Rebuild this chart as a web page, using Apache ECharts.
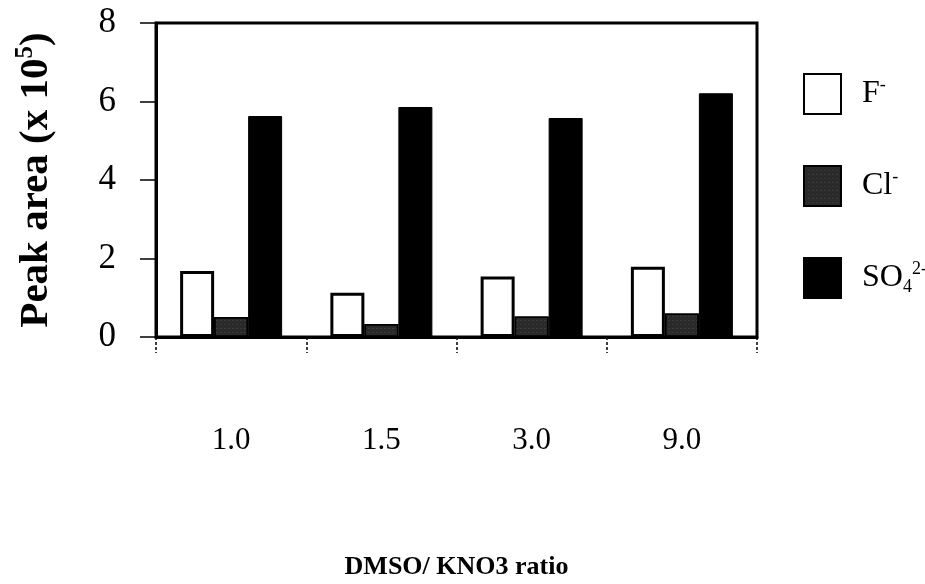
<!DOCTYPE html>
<html>
<head>
<meta charset="utf-8">
<script src="https://cdn.jsdelivr.net/npm/echarts@6/dist/echarts.min.js"></script>
<style>
  html, body { margin: 0; padding: 0; background: #fff; }
  #chart { width: 925px; height: 584px; }
</style>
</head>
<body>
<div id="chart"></div>
<script>
// DMSO / KNO3 ratio groups and anion peak areas (x 10^5)
const categories = ['1.0', '1.5', '3.0', '9.0'];
const fluoride = [1.68, 1.13, 1.54, 1.79];
const chloride = [0.51, 0.33, 0.52, 0.60];
const sulfate = [5.63, 5.86, 5.58, 6.21];
const yTicks = [0, 2, 4, 6, 8];

const serif = '"Liberation Serif", "DejaVu Serif", serif';

const chart = echarts.init(document.getElementById('chart'));

// legend labels with ionic charges as superscripts
const legendNames = {
  'F-': '{pad|}{base|F}{sup|-}',
  'Cl-': '{pad|}{base|Cl}{sup|-}',
  'SO42-': '{pad|}{base|SO}{sub|4}{sup|2-}'
};

// speckled fill for the chloride bars
const speckle = {
  symbol: 'rect',
  symbolSize: 0.4,
  color: 'rgba(255,255,255,0.45)',
  dashArrayX: [[1, 3], [2, 2]],
  dashArrayY: [1, 3],
  rotation: 0
};

chart.setOption({
  animation: false,
  backgroundColor: '#fff',
  grid: {
    left: 156, right: 168, top: 23, bottom: 247,
    outerBoundsMode: 'none',
    containLabel: false,
    show: true, borderColor: '#000', borderWidth: 3, backgroundColor: 'transparent'
  },
  legend: {
    orient: 'vertical',
    left: 798, top: 68,
    itemWidth: 37, itemHeight: 40,
    itemGap: 50,
    icon: 'rect',
    selectedMode: false,
    data: ['F-', 'Cl-', 'SO42-'],
    formatter: name => legendNames[name],
    textStyle: {
      rich: {
        pad: { width: 16 },
        base: { fontFamily: serif, fontSize: 32, color: '#000' },
        sup: { fontFamily: serif, fontSize: 18, color: '#000', verticalAlign: 'top', padding: [0, 0, 18, 0] },
        sub: { fontFamily: serif, fontSize: 18, color: '#000', verticalAlign: 'bottom', padding: [14, 0, 0, 0] }
      }
    }
  },
  xAxis: {
    type: 'category',
    data: categories,
    name: 'DMSO/ KNO3 ratio',
    nameLocation: 'middle',
    nameGap: 217,
    nameTextStyle: { fontFamily: serif, fontSize: 26, fontWeight: 'bold', color: '#000' },
    axisLine: { lineStyle: { color: '#000', width: 3 } },
    axisTick: { show: true, inside: false, length: 16, alignWithLabel: false, lineStyle: { color: '#000', width: 1.5, type: [3, 2] } },
    axisLabel: { margin: 88, fontFamily: serif, fontSize: 31, color: '#000' },
    splitLine: { show: false }
  },
  yAxis: {
    type: 'value',
    min: 0, max: 8, interval: 2,
    name: '{base|Peak area (x 10}{sup|5}{base|)}',
    nameLocation: 'middle',
    nameRotate: 90,
    nameGap: 96,
    nameTextStyle: {
      rich: {
        base: { fontFamily: serif, fontSize: 41, fontWeight: 'bold', color: '#000' },
        sup: { fontFamily: serif, fontSize: 25, fontWeight: 'bold', color: '#000', verticalAlign: 'top', padding: [0, 0, 22, 0] }
      }
    },
    axisLine: { show: true, lineStyle: { color: '#000', width: 3 } },
    axisTick: { show: true, inside: false, length: 16, lineStyle: { color: '#000', width: 1.5 } },
    axisLabel: {
      margin: 40, fontFamily: serif, fontSize: 35, color: '#000',
      formatter: v => (yTicks.indexOf(v) >= 0 ? String(v) : '')
    },
    splitLine: { show: false }
  },
  series: [
    {
      name: 'F-', type: 'bar', data: fluoride,
      barWidth: 34, barGap: '0%',
      itemStyle: { color: '#fff', borderColor: '#000', borderWidth: 3 }
    },
    {
      name: 'Cl-', type: 'bar', data: chloride,
      barWidth: 34, barGap: '0%',
      itemStyle: { color: '#2a2a2a', borderColor: '#000', borderWidth: 1.5, decal: speckle }
    },
    {
      name: 'SO42-', type: 'bar', data: sulfate,
      barWidth: 34, barGap: '0%',
      itemStyle: { color: '#000', borderColor: '#000', borderWidth: 1 }
    }
  ]
});
</script>
</body>
</html>
